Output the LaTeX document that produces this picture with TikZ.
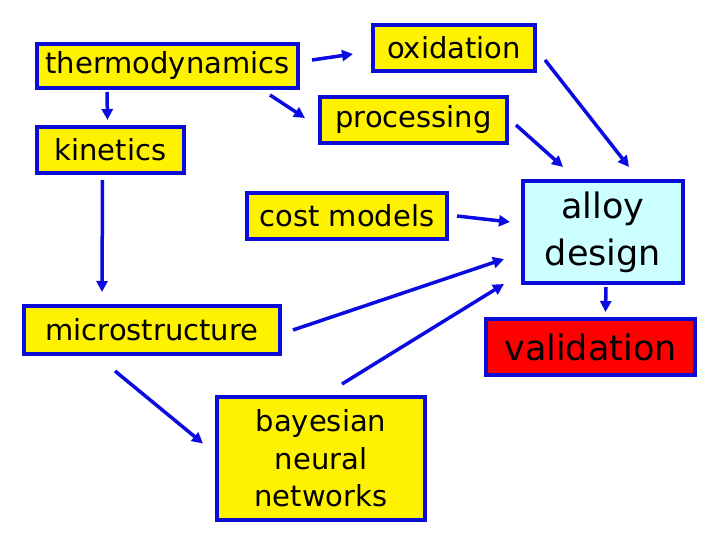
\documentclass[tikz,border=0pt]{standalone}
\usepackage{fontspec}
\setmainfont{DejaVu Sans}
\usetikzlibrary{arrows.meta,positioning}
\definecolor{boxblue}{RGB}{12,12,215}
\definecolor{arrowblue}{RGB}{10,10,225}
\definecolor{designcyan}{RGB}{204,255,255}

\begin{document}
\begin{tikzpicture}[x=1pt, y=-1pt,
    box/.style={rectangle, draw=boxblue, fill=yellow, line width=4pt, inner sep=0pt, align=center, font=\fontsize{29}{37.5}\selectfont},
    design/.style={box, fill=designcyan, font=\fontsize{35}{47}\selectfont},
    check/.style={box, fill=red, font=\fontsize{35}{42}\selectfont},
    arrow/.style={draw=arrowblue, line width=3.5pt, -{Triangle[length=11pt,width=11pt]}}
]
    \useasboundingbox (0,0) rectangle (720,540);

    \node[box, minimum width=261pt, minimum height=44pt] (thermo) at (167.5,66) {thermodynamics};
    \node[box, minimum width=147pt, minimum height=46pt] (kin) at (110.5,150) {kinetics};
    \node[box, minimum width=162pt, minimum height=46pt] (oxi) at (454,48) {oxidation};
    \node[box, minimum width=187pt, minimum height=46pt] (proc) at (413.5,120) {processing};
    \node[box, minimum width=200pt, minimum height=46pt] (cost) at (347,216) {cost models};
    \node[box, minimum width=256pt, minimum height=48pt] (micro) at (152,330) {microstructure};
    \node[box, minimum width=208pt, minimum height=123pt] (bnn) at (321,458.5) {bayesian\\neural\\networks};
    \node[design, minimum width=160pt, minimum height=102pt] (alloy) at (603,232) {alloy\\design};
    \node[check, minimum width=209pt, minimum height=56pt] (valid) at (590.5,347) {validation};

    \draw[arrow] ([xshift=72pt,yshift=-2pt]thermo.south west) -- ([xshift=-3pt,yshift=5pt]kin.north);
    \draw[arrow] ([xshift=12pt,yshift=6pt]thermo.east) -- ([xshift=-18pt,yshift=-6pt]oxi.west);
    \draw[arrow] ([xshift=-30pt,yshift=-5pt]thermo.south east) -- ([xshift=-13pt,yshift=2pt]proc.west);
    \draw[arrow] ([xshift=-8pt,yshift=-5pt]kin.south) -- ([xshift=80pt,yshift=12pt]micro.north west);
    \draw[arrow] ([xshift=93pt,yshift=-15pt]micro.south west) -- ([xshift=-12pt,yshift=15pt]bnn.west);
    \draw[arrow] ([xshift=11pt]micro.east) -- ([xshift=-17pt,yshift=-27pt]alloy.west);
    \draw[arrow] ([xshift=21pt,yshift=11pt]bnn.north) -- ([xshift=-17pt,yshift=1pt]alloy.south west);
    \draw[arrow] ([xshift=8pt]cost.east) -- ([xshift=-11pt,yshift=10pt]alloy.west);
    \draw[arrow] ([xshift=7pt,yshift=-5pt]proc.east) -- ([xshift=42pt,yshift=12pt]alloy.north west);
    \draw[arrow] ([xshift=8pt,yshift=-12pt]oxi.east) -- ([xshift=108pt,yshift=12pt]alloy.north west);
    \draw[arrow] ([xshift=3pt,yshift=-2pt]alloy.south) -- ([xshift=15pt,yshift=5pt]valid.north);
\end{tikzpicture}
\end{document}
